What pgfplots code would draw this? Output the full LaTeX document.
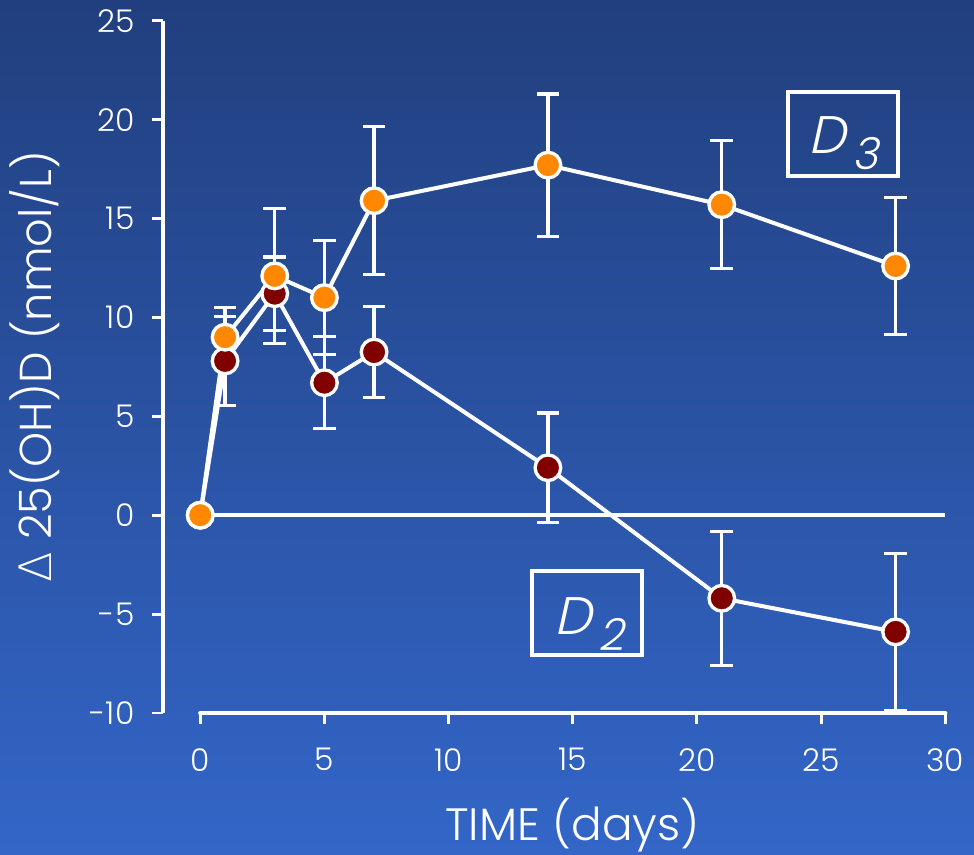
\documentclass[border=0pt]{standalone}
\usepackage{pgfplots}
\usepackage{pgfplotstable}
\pgfplotsset{compat=1.18}
\usepackage{fontspec}
\setmainfont{Poppins Light}
\newfontfamily\greekfont{DejaVu Sans ExtraLight}
\newfontfamily\labelfont{Poppins Light}[FakeSlant=0.22]

\definecolor{bgtop}{HTML}{213F7E}
\definecolor{bgbot}{HTML}{3366C8}
\definecolor{dthree}{HTML}{FF8800}
\definecolor{dtwo}{HTML}{800000}

% change in 25(OH)D after a single dose: time (days), mean, error
\pgfplotstableread{
x  y     e
0  0     0
1  7.8   2.25
3  11.2  1.85
5  6.7   2.33
7  8.25  2.3
14 2.4   2.77
21 -4.2  3.38
28 -5.9  3.96
}\dtwotab

\pgfplotstableread{
x  y     e
0  0     0
1  9.0   1.5
3  12.1  3.4
5  11.0  2.88
7  15.9  3.75
14 17.7  3.6
21 15.7  3.23
28 12.6  3.45
}\dthreetab

\pgfplotsset{
  seriesstyle/.style={white, line width=3pt, mark=*, mark size=9.6pt,
    mark options={fill=#1, draw=white, line width=2.5pt},
    error bars/y dir=both, error bars/y explicit,
    error bars/error bar style={white, line width=2.4pt},
    error bars/error mark options={rotate=90, white, mark size=8.5pt, line width=2.4pt}},
}

\begin{document}
\begin{tikzpicture}
% slide background
\shade[top color=bgtop,bottom color=bgbot] (-122.25pt,-106.5pt) rectangle (608.25pt,534.75pt);
\begin{axis}[
  at={(0pt,0pt)}, anchor=south west, scale only axis,
  width=586.7pt, height=519.2pt,
  xmin=-1.5, xmax=30, ymin=-10, ymax=25,
  clip=false,
  axis line style={draw=none},
  xtick={0,5,...,30}, ytick={-10,-5,...,25},
  yticklabels={{-10},{-5},0,5,10,15,20,25},
  xtick pos=bottom, ytick pos=left,
  tick align=outside, major tick length=8.25pt,
  tick style={white, line width=2.2pt},
  /pgf/number format/assume math mode=true,
  ticklabel style={font=\fontsize{23.5pt}{28pt}\selectfont, text=white, inner sep=0pt},
  xticklabel style={anchor=north, yshift=-18pt},
  yticklabel style={anchor=east, xshift=-13pt},
  label style={text=white, inner sep=0pt},
  xlabel={TIME (days)},
  xlabel style={at={(axis description cs:0.5235,-0.1835)}, anchor=base,
    font=\fontsize{34pt}{38pt}\selectfont},
  ylabel={{\greekfont Δ} 25(OH)D (nmol/L)},
  ylabel style={at={(axis description cs:-0.1423,0.5)}, anchor=base,
    font=\fontsize{33.5pt}{38pt}\selectfont},
]
% axis lines
\draw[white, line width=2.6pt] (axis cs:-1.5,-10) -- (axis cs:-1.5,25);
\draw[white, line width=3.2pt, line cap=round] (axis cs:0,-10) -- (axis cs:30,-10);
% zero reference
\addplot[white, line width=2.6pt, no marks, forget plot] coordinates {(0,0) (30,0)};

\addplot[seriesstyle=dtwo] table[x=x, y=y, y error=e] {\dtwotab};
\addplot[seriesstyle=dthree] table[x=x, y=y, y error=e] {\dthreetab};

% series labels
\node[draw=white, line width=3pt, minimum width=82.5pt, minimum height=63pt, inner sep=0pt]
  at (axis cs:25.9,19.28) {};
\node[text=white, inner sep=0pt, anchor=base west,
  font=\labelfont\fontsize{39.6pt}{40pt}\selectfont]
  at (axis cs:24.5,18.27) {D\kern5pt\raisebox{-11.5pt}{\fontsize{33pt}{33pt}\selectfont 3}};
\node[draw=white, line width=3pt, minimum width=82.5pt, minimum height=63pt, inner sep=0pt]
  at (axis cs:15.59,-4.965) {};
\node[text=white, inner sep=0pt, anchor=base west,
  font=\labelfont\fontsize{39.6pt}{40pt}\selectfont]
  at (axis cs:14.25,-6.05) {D\kern5pt\raisebox{-11.5pt}{\fontsize{33pt}{33pt}\selectfont 2}};
\end{axis}
\pgfresetboundingbox
\useasboundingbox (-122.25pt,-106.5pt) rectangle (608.25pt,534.75pt);
\end{tikzpicture}
\end{document}
